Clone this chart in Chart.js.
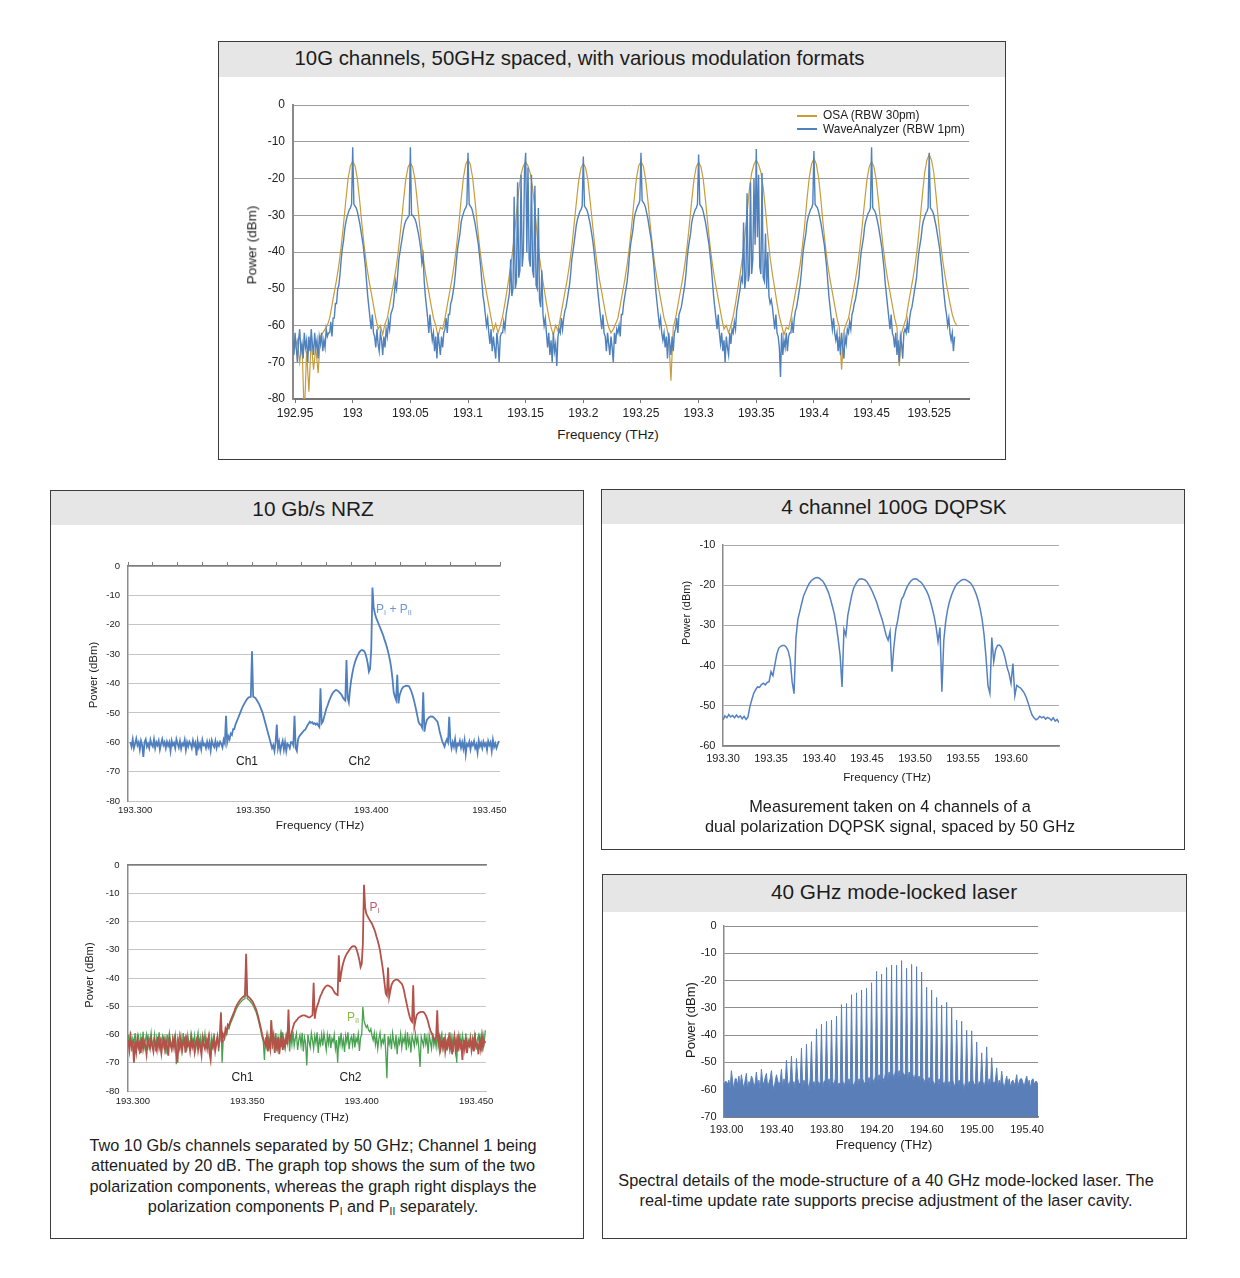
<!DOCTYPE html>
<html>
<head>
<meta charset="utf-8">
<title>Optical spectrum measurements</title>
<script src="https://cdn.jsdelivr.net/npm/chart.js@4.4.1/dist/chart.umd.min.js"></script>
<style>
  html, body { margin: 0; padding: 0; background: #fff; }
  body { width: 1240px; height: 1278px; position: relative; overflow: hidden;
         font-family: 'Liberation Sans', Arial, Helvetica, sans-serif; color: #1c1c1c; }
  .panel { position: absolute; border: 1px solid #3c3c3c; box-sizing: border-box; background: #fff; }
  .head { position: absolute; left: 0; right: 0; top: 0; background: #e6e6e6; }
  canvas { position: absolute; }
  .txt { position: absolute; white-space: nowrap; line-height: 1; z-index: 2; }
  .sub { font-size: 0.62em; position: relative; top: 0.3em; }
  .swatch { position: absolute; height: 2px; width: 20px; z-index: 2; }
</style>
</head>
<body>
<div class="panel" style="left:218px;top:41px;width:788px;height:419px"><div class="head" style="height:35px"></div></div>
<div class="panel" style="left:50px;top:490px;width:534px;height:749px"><div class="head" style="height:34px"></div></div>
<div class="panel" style="left:601px;top:489px;width:584px;height:361px"><div class="head" style="height:34px"></div></div>
<div class="panel" style="left:602px;top:874px;width:585px;height:365px"><div class="head" style="height:37px"></div></div>

<canvas id="c1" width="730" height="332" style="left:253px;top:95px"></canvas>
<canvas id="c2" width="428" height="269" style="left:92px;top:556px"></canvas>
<canvas id="c3" width="414" height="260" style="left:92px;top:855px"></canvas>
<canvas id="c4" width="392" height="237" style="left:687px;top:535px"></canvas>
<canvas id="c5" width="370" height="227" style="left:688px;top:916px"></canvas>

<div class="swatch" style="left:797px;top:115px;background:#c99c3a"></div>
<div class="swatch" style="left:797px;top:128px;background:#4f81bd"></div>

<script>
// ---------- tick labels ----------
const powerTicks80 = [-80, -70, -60, -50, -40, -30, -20, -10, 0];
const powerLabels80 = ['-80', '-70', '-60', '-50', '-40', '-30', '-20', '-10', '0'];
const powerTicks70 = [-70, -60, -50, -40, -30, -20, -10, 0];
const powerLabels70 = ['-70', '-60', '-50', '-40', '-30', '-20', '-10', '0'];
const dqpskPowerTicks = [-60, -50, -40, -30, -20, -10];
const dqpskPowerLabels = ['-60', '-50', '-40', '-30', '-20', '-10'];

const topFreqTicks = [192.95, 193, 193.05, 193.1, 193.15, 193.2, 193.25, 193.3, 193.35, 193.4, 193.45, 193.5];
const topFreqLabels = ['192.95', '193', '193.05', '193.1', '193.15', '193.2', '193.25', '193.3', '193.35', '193.4', '193.45', '193.525'];
const nrzFreqTicks = [193.30, 193.35, 193.40, 193.45];
const nrzFreqLabels = ['193.300', '193.350', '193.400', '193.450'];
const dqpskFreqTicks = [193.30, 193.35, 193.40, 193.45, 193.50, 193.55, 193.60];
const dqpskFreqLabels = ['193.30', '193.35', '193.40', '193.45', '193.50', '193.55', '193.60'];
const mlFreqTicks = [193.0, 193.4, 193.8, 194.2, 194.6, 195.0, 195.4];
const mlFreqLabels = ['193.00', '193.40', '193.80', '194.20', '194.60', '195.00', '195.40'];

// ---------- 10G channels: WaveAnalyzer (1 GHz grid) ----------
// before the first channel, from 192.948 THz
const waLead = [-63,-68,-62,-66,-70,-64,-61,-67,-65,-69,-62,-66,-64,-70,-63,-67,-61,-65,-68,-62,-66,-64,-69,-63,-65,-62,-67,-64,-66,-61,-63,-62];
// one row per 50 GHz slot, first value 20 GHz below the channel centre
const waSlots = [
  [-62,-59,-63,-58,-58,-54,-54,-50,-49,-46,-42,-39,-37,-34,-32,-30.5,-29.5,-28.5,-28,-27,-11.5,-27,-27.5,-28,-29,-30.5,-32,-34,-36,-38,-41,-44,-48,-52,-55,-58,-61,-57,-62,-63,-66,-61,-65,-67,-62,-64,-68,-63,-66,-61],
  [-63,-59,-61,-57,-56,-55,-52,-48,-50,-46,-42,-40,-38,-36,-34,-32.5,-31.5,-31,-30.5,-30,-11.5,-30,-30,-30.5,-31,-32,-33.5,-35,-37,-39,-43,-41,-48,-52,-55,-58,-62,-57,-61,-64,-62,-67,-63,-69,-62,-65,-68,-63,-66,-62],
  [-61,-58,-62,-57,-57,-54,-53,-51,-49,-46,-42,-39,-37,-35,-32,-30.5,-29.5,-28.5,-28,-27,-13,-27,-27.5,-28,-29,-30.5,-32,-34,-36,-38,-41,-44,-48,-52,-54,-57,-60,-58,-62,-65,-61,-67,-63,-66,-69,-62,-65,-70,-63,-62],
  [-62,-59,-61,-57,-55,-53,-51,-42,-52,-50,-25,-50,-48,-21,-47,-45,-19,-44,-40,-18,-13,-40,-17,-42,-44,-19,-45,-47,-22,-49,-50,-28,-53,-55,-45,-57,-60,-58,-62,-66,-62,-68,-64,-70,-62,-67,-65,-71,-63,-61],
  [-62,-58,-61,-58,-56,-55,-53,-51,-49,-46,-42,-40,-37.5,-35,-32.5,-31,-30,-29,-28.5,-27.5,-14,-27.5,-28,-28.5,-29.5,-31,-32.5,-34.5,-36.5,-39,-42,-45,-49,-52,-55,-58,-61,-57,-62,-63,-67,-62,-65,-68,-63,-66,-70,-62,-65,-61],
  [-62,-60,-63,-57,-57,-54,-52,-50,-48,-45,-41,-38,-36,-34,-31,-29.5,-28.5,-27.5,-27,-26,-13,-26,-26.5,-27,-28,-29.5,-31,-33,-35,-37,-40,-43,-47,-51,-54,-57,-60,-58,-62,-64,-62,-66,-63,-69,-62,-65,-68,-63,-67,-62],
  [-61,-58,-62,-57,-56,-55,-53,-51,-49,-46,-42,-39,-37,-35,-32,-30.5,-29.5,-28.5,-28,-27,-13.5,-27,-27.5,-28,-29,-30.5,-32,-34,-36,-38,-41,-44,-48,-52,-55,-58,-61,-57,-62,-65,-62,-67,-64,-70,-63,-66,-68,-62,-65,-61],
  [-62,-59,-61,-56,-54,-52,-50,-47,-48,-32,-50,-47,-24,-48,-46,-21,-46,-42,-20,-38,-12,-36,-19,-44,-46,-18.5,-47,-48,-35,-50,-40,-52,-54,-53,-55,-58,-61,-57,-62,-63,-66,-74,-62,-68,-64,-66,-62,-67,-63,-62],
  [-62,-59,-62,-58,-56,-55,-53,-51,-49,-46,-42,-39,-37,-35,-32,-30.5,-29.5,-28.5,-28,-27,-12.5,-27,-27.5,-28,-29,-30.5,-32,-34,-36,-38,-41,-44,-48,-52,-55,-58,-61,-58,-62,-64,-62,-67,-63,-68,-62,-66,-69,-63,-65,-61],
  [-62,-59,-61,-57,-56,-54,-53,-51,-49,-47,-43,-40,-38,-36,-33,-31.5,-30.5,-29.5,-29,-28,-11.5,-28,-28.5,-29,-30,-31.5,-33,-35,-37,-39,-42,-45,-49,-52,-55,-58,-61,-57,-62,-63,-66,-62,-68,-64,-70,-63,-65,-69,-62,-61],
  [-62,-59,-62,-58,-56,-55,-53,-51,-49,-47,-43,-40,-38,-36,-33,-31.5,-30.5,-29.5,-29,-28,-13,-28,-28.5,-29,-30,-31.5,-33,-35,-37,-39,-42,-45,-49,-52,-55,-57,-60,-58,-62,-64,-62,-67,-63]
];

// ---------- 10G channels: OSA (2 GHz grid) ----------
const osaLead = [-63,-66,-64,-70,-65,-85,-67,-78,-64,-72,-66,-73,-63,-62];
// one row per slot, first value 24 GHz below the channel centre
const osaSlots = [
  [-61,-60,-58,-54.5,-51,-47.5,-43.5,-38.5,-32.5,-26,-20,-16.5,-15.3,-16.5,-20,-26,-32.5,-38.5,-43.5,-47.5,-51,-54.5,-58,-61,-60],
  [-62.5,-59.5,-58,-54.5,-51,-47.5,-43.5,-38.5,-32.5,-26.2,-20.3,-16.9,-15.7,-16.9,-20.3,-26.2,-32.5,-38.5,-43.5,-47.5,-51,-54.5,-58,-60,-63],
  [-60.5,-61,-58,-54.5,-51,-47.5,-43.5,-38.5,-32.5,-25.8,-19.8,-16.2,-14.8,-16.2,-19.8,-25.8,-32.5,-38.5,-43.5,-47.5,-51,-54.5,-58,-61.5,-59.5],
  [-62,-60,-57.5,-54,-50,-46,-41.5,-36,-29.5,-23,-18.8,-16.6,-15.5,-16.6,-18.6,-22.5,-28.5,-35.5,-41.5,-46,-50,-54,-57.5,-60.5,-62.5],
  [-60,-61.5,-58,-54.5,-51,-47.5,-43.5,-38.5,-32.5,-26.4,-20.5,-17.1,-15.9,-17.1,-20.5,-26.4,-32.5,-38.5,-43.5,-47.5,-51,-54.5,-58,-60.5,-62],
  [-61,-59.5,-58,-54.5,-51,-47.5,-43.5,-38.5,-32.5,-26,-20.1,-16.6,-15.4,-16.6,-20.1,-26,-32.5,-38.5,-43.5,-47.5,-51,-54.5,-58,-60,-63],
  [-75,-60.5,-58,-54.5,-51,-47.5,-43.5,-38.5,-32.5,-26.1,-20.2,-16.8,-15.6,-16.8,-20.2,-26.1,-32.5,-38.5,-43.5,-47.5,-51,-54.5,-58,-61,-60],
  [-62,-60,-57.5,-54,-50,-46,-41.5,-36,-29.5,-23,-18.5,-16.2,-15,-16.2,-18.3,-22.5,-28.5,-35.5,-41.5,-46,-50,-54,-57.5,-60,-62.5],
  [-60.5,-61,-58,-54.5,-51,-47.5,-43.5,-38.5,-32.5,-25.6,-19.6,-16,-14.6,-16,-19.6,-25.6,-32.5,-38.5,-43.5,-47.5,-51,-54.5,-58,-60.5,-72],
  [-61.5,-59.5,-58,-54.5,-51,-47.5,-43.5,-38.5,-32.5,-26.2,-20.3,-16.8,-15.5,-16.8,-20.3,-26.2,-32.5,-38.5,-43.5,-47.5,-51,-54.5,-58,-60.5,-71],
  [-62,-60,-58,-54,-50.5,-47,-43,-38,-31.5,-24.8,-18.5,-15,-13.5,-15,-18.5,-24.8,-31.5,-38,-43,-47,-50.5,-54,-57,-59,-60]
];

// ---------- 10 Gb/s NRZ, 0.5 GHz grid from 193.298 THz ----------
const nrzSumPower = [
  -60,-61.5,-59,-62,-60.5,-58.8,-61,-60,-62.5,-59.5,-61,-65,-60,-59,-61.5,-60.5,-62,-59.2,-60.8,-61.5,
  -59,-62,-60,-61,-59.5,-62.5,-60.5,-59,-61,-60,-62,-59.8,-61.2,-60,-63,-59.5,-61,-60.2,-62,-59,
  -60.5,-61.8,-59.6,-62.2,-60.4,-61,-59.2,-62.6,-60,-61.4,-59.8,-60.6,-62,-59.4,-61.2,-60.2,-64.5,-59.6,-61.8,-60.4,
  -62.4,-59.2,-61,-60.6,-62,-59.8,-61.6,-60,-62.8,-59.4,-60.8,-61.6,-59.6,-62,-60.2,-61.2,-59.8,-60.6,-61.8,-59.2,
  -60.4,-51,-60,-58,-59,-57,-57.5,-55.5,-55.5,-54,-53,-52,-51,-50,-49,-48,-47.2,-46.5,-45.8,-45.2,
  -44.8,-44.6,-44.5,-29,-44.5,-44.7,-45,-45.6,-46.3,-47,-48,-49,-50,-51.5,-53,-54.5,-56,-57.5,-59,-60.5,
  -62,-61,-63,-60,-54,-62,-60,-63,-61,-59.5,-62.5,-60,-63,-60.5,-61,-62,-60,-60,-61,-51,
  -62,-63,-59,-58,-57.5,-57,-56.5,-56,-55.8,-55,-54.2,-53.6,-53,-53.4,-53.2,-53.8,-53.5,-54,-53.6,-54.2,
  -54.8,-41.6,-53.6,-53,-51.5,-50,-48.5,-47.5,-46.3,-45.2,-44.3,-43.5,-42.9,-42.5,-42.2,-42.3,-42.6,-43,-43.4,-44,
  -44.8,-45.4,-45.8,-32,-45,-46.5,-42,-38.8,-36.5,-34.5,-33,-31.8,-30.8,-30,-29.3,-28.8,-28.6,-28.7,-29,-29.8,
  -31.2,-33.2,-36,-35,-28,-7.3,-14,-16,-17.5,-18.5,-19.5,-20.5,-21.5,-22.5,-23.5,-24.8,-26,-27.3,-28.8,-30.5,
  -32.5,-35,-38.5,-43,-44.5,-45.6,-37,-46.8,-44,-42.8,-41.8,-41.2,-41,-40.8,-40.7,-40.8,-41,-41.8,-42.8,-44,
  -45.5,-47.2,-49,-51,-53,-53.8,-54.1,-55,-43,-56.4,-54,-52.5,-51.9,-51.5,-51.3,-51.2,-51.3,-51.6,-52,-52.5,
  -53,-54.5,-56.5,-58,-59.5,-60.5,-61.5,-60,-59,-60,-51.3,-59.5,-62,-60,-61.5,-59,-62.5,-60.5,-61,-59.5,
  -61.8,-60,-62.2,-59.4,-64,-60.6,-61.2,-59.8,-62.4,-60.2,-61,-59.6,-62,-60.8,-63.5,-59.4,-61.4,-60.2,-62,-59.8,
  -61.2,-60.4,-62.6,-59.6,-61,-60,-63,-59.2,-61.6,-60.4,-62,-60.8,-59.6
];
const nrzPiPower = [
  -62,-65.5,-61,-64,-63,-70,-62.5,-66,-61.5,-64.5,-63,-66.5,-61,-65,-62.5,-64,-67,-61.8,-63.5,-65,
  -61.5,-64,-66,-62,-63.5,-65.5,-60.8,-64.5,-62.5,-66.5,-63,-61.5,-65,-62.2,-64.2,-67.5,-61.6,-63.8,-65.2,-62,
  -64.6,-61.2,-66,-70,-62.8,-64.8,-61.5,-65.6,-63.2,-62,-66.4,-61.8,-64,-63,-65.8,-61.4,-64.4,-62.6,-66.2,-63,
  -61.6,-65.4,-62.4,-64.2,-67.2,-61.2,-63.6,-65,-62,-64.8,-61.6,-66.6,-69,-62.8,-64.4,-61.8,-65.8,-63.2,-60.8,-64,
  -62,-52.5,-63,-60,-61,-58,-59,-56.5,-57,-55.5,-54.5,-53.5,-52.5,-51.5,-50.3,-49.5,-48.8,-48.2,-47.6,-47.2,
  -46.8,-46.5,-46.3,-31.4,-46.3,-46.6,-47,-47.5,-48,-48.6,-49.5,-50.4,-51.4,-52.8,-54.5,-56.2,-58,-60,-61.5,-63,
  -64,-61,-66,-62.5,-65,-55,-63,-60.5,-66.5,-62,-64.5,-61,-67,-63,-60.5,-65.5,-62,-64,-61,-63.5,
  -51.2,-62,-61,-59,-57.5,-56,-55.5,-55,-54.5,-54,-53.8,-53.5,-53.3,-53.2,-53.2,-53.4,-53.6,-53.8,-54,-53.8,
  -53.5,-53.2,-41.7,-54.4,-51.5,-50,-49,-47.5,-46.3,-45.5,-44.5,-43.8,-43.2,-42.8,-42.6,-42.7,-42.9,-43.2,-43.5,-44.2,
  -45,-45.5,-45.8,-46,-32,-41.4,-38.5,-36.1,-34.5,-33.2,-32.2,-31.4,-30.8,-30.2,-29.6,-29.1,-28.8,-28.7,-28.8,-29.3,
  -30.5,-32,-33.7,-36.1,-35,-28,-7,-15,-17.2,-18,-18.8,-19.5,-20.2,-20.8,-21.8,-22.8,-24,-25.5,-26.8,-28.4,
  -30.2,-33,-35.5,-38.5,-42,-45.5,-46.2,-36.3,-46.7,-44.5,-42.5,-41.6,-41,-40.7,-40.6,-40.6,-40.8,-41.2,-41.6,-42,
  -43,-44.5,-46.7,-48.5,-50.5,-52.2,-53.8,-55,-55.5,-42.6,-57.3,-55,-53.2,-52.6,-52.3,-52.1,-52,-52,-52.1,-52.5,
  -53.2,-54.2,-55.5,-57.3,-58.5,-59.5,-60.3,-61.5,-62,-61,-51.4,-63,-61,-65,-62.5,-64.5,-61,-66,-63,-64.5,
  -61.5,-65,-62,-67,-63.5,-60.8,-65.5,-62.5,-66,-61.2,-64.5,-63,-69,-62,-65,-61,-66.5,-63,-64,-61.8,
  -65.5,-62.5,-66,-61,-64,-63.5,-67,-62,-65,-60.8,-64.5,-62.2,-63
];
const nrzPiiPower = [
  -60,-64,-59,-66,-61.5,-63,-59.5,-65,-62,-60.5,-67,-61,-63.5,-59,-64.5,-62,-60,-65.5,-61,-63,
  -59.5,-64,-62.5,-60,-66,-61,-63,-59.2,-65,-62,-60.5,-64,-61.5,-67,-60,-63.5,-59.5,-62.5,-65,-61,
  -63,-59.8,-70.5,-61.5,-64,-60,-62.5,-65.5,-59.5,-63,-61,-66,-60.2,-62.8,-64.5,-59.6,-61.8,-63.5,-60.4,-65,
  -62,-59.4,-64,-61.2,-66.5,-60,-63,-59.8,-65,-61.6,-62.4,-60.2,-67,-61,-63.8,-59.6,-64.6,-62.2,-60.6,-66,
  -61,-52,-70,-62,-62,-59,-60,-57.5,-58,-56.5,-55.5,-54.5,-53.5,-52.5,-51.3,-50.5,-49.8,-49.2,-48.6,-48.2,
  -47.8,-47.5,-47.3,-38,-47.3,-47.6,-48,-48.5,-49,-49.6,-50.5,-51.4,-52.4,-53.8,-55.5,-57.2,-59,-61,-62.5,-69,
  -61,-64,-60,-63,-62,-55,-65,-60.5,-63,-59.5,-66,-61,-63.5,-60,-64.5,-59.2,-62.5,-65,-60.5,-63,
  -56,-66,-60,-63.5,-59,-64,-61.5,-59.6,-65.5,-62,-60.2,-63.8,-59.4,-66,-61,-63,-71,-60,-62.5,-64.5,
  -59.5,-62,-65,-60.5,-63,-59.2,-66.5,-61.5,-63.5,-60,-64,-59.6,-62.4,-65.5,-60.2,-63.2,-59.8,-64.8,-61.4,-62.6,
  -60,-65,-62,-70,-60.6,-63.6,-59.4,-64.2,-61.8,-66.2,-60.4,-62.8,-59.2,-65.2,-62,-60.8,-63.8,-59.6,-64.6,-61.2,
  -62.6,-59.8,-65.8,-61,-60,-50.3,-55,-56.5,-57.5,-56.8,-58.5,-59,-58,-60.5,-62,-59.5,-63.5,-60.5,-65,-61.5,
  -59.4,-64,-61.8,-63,-59.8,-66,-75.5,-60.6,-63.4,-61,-65.2,-59.6,-62.6,-64.4,-60.2,-67,-61.6,-63.2,-59.8,-64.6,
  -61.2,-62.8,-60,-65.6,-59.2,-63.6,-61.4,-66.4,-60.4,-62.2,-64.2,-59.8,-63,-61,-65.4,-71.5,-60.8,-62.4,-64,-59.6,
  -63.4,-61,-66.8,-60.2,-62.6,-65,-59.4,-63.8,-61.6,-64.4,-60,-62.8,-66,-61.2,-59.6,-64.8,-62.2,-60.6,-65.6,-61.8,
  -63,-59.2,-64.4,-61.4,-66.2,-60.4,-62.6,-70,-59.8,-63.6,-61,-65.2,-60.2,-62.4,-64,-59.6,-66.6,-61.8,-63.2,-60.6,
  -64.8,-61,-62.6,-59.4,-65.4,-62,-60.4,-63.8,-61.2,-66,-60,-62.8,-58.5
];

// ---------- 4 channel 100G DQPSK, 2 GHz grid from 193.300 THz ----------
const dqpskPower = [
  -53.5,-52.5,-53,-52.2,-52.8,-52.4,-53,-52.3,-52.9,-52.5,-53.2,-52.6,-53.4,-52.8,-50.2,-48.5,-46.9,-46,-45.3,-45.4,
  -44.7,-44.4,-44.8,-44.2,-44,-41.5,-42.5,-39.8,-37.2,-35.7,-35.2,-35,-35,-35.4,-36.4,-38.5,-44,-47,-33,-28.5,
  -26.5,-24.5,-22.6,-21.5,-20.4,-19.5,-18.9,-18.5,-18.2,-18.1,-18.2,-18.6,-19,-19.8,-20.8,-21.9,-23.5,-25.3,-27.2,-30,
  -33.5,-37.5,-45.3,-31,-32.5,-27.5,-25,-22.6,-20.8,-19.8,-19,-18.5,-18.4,-18.5,-18.7,-19.2,-20,-20.8,-21.8,-23,
  -24.2,-25.8,-27.3,-28.7,-30.6,-32.5,-33.7,-31.5,-41.5,-35.3,-31,-28.7,-25.8,-23.5,-22.7,-21.4,-20.3,-19.5,-18.9,-18.5,
  -18.4,-18.5,-18.9,-19.2,-19.8,-20.6,-21.4,-22.5,-24,-25.8,-27.8,-30.5,-34,-30.5,-46.5,-33.7,-29,-26,-24,-22.5,
  -21.3,-20.3,-19.6,-19.2,-18.8,-18.6,-18.6,-18.8,-19.1,-19.5,-20.2,-21.2,-22.4,-24,-26,-28.6,-32.5,-38,-45,-46.9,
  -33,-39,-36,-35,-34.9,-35.4,-36.5,-38.2,-40.5,-42,-44.4,-39.5,-47.5,-44.9,-45.3,-45.6,-46.2,-46.9,-48,-49.4,
  -51,-52.3,-53,-53.5,-53.2,-52.6,-53,-52.7,-53.3,-52.9,-53.1,-53.6,-53,-53.8,-53.4,-54.2
];

// ---------- 40 GHz mode-locked laser ----------
const mlFirstMode = 192.998;   // THz, mode 0
const mlSpacing = 0.04;        // THz
const mlModePeaks = [
  -57,-53,-56,-54.5,-54,-55,-53.5,-52.5,-54,-53,-54.5,-52.5,
  -49.2,-47.7,-48.6,-44.8,-43.3,-42.4,-37.7,-36,-35,-34.5,-33,-28.8,-28.4,-25.2,-24.5,-23.5,-22.8,-20.8,-16.6,-17.6,
  -15.2,-14.3,-14.4,-12.7,-15.5,-14.1,-14.9,-16.9,-22.5,-23.5,-26.2,-29,-28,-30,-34.5,-34.9,-38.2,-38.4,-42.5,-46.5,
  -44.3,-48.3,-52,-53.2,
  -55,-57,-54.5,-56,-55,-56.5,-57
];
const mlLeadFloor = [-58.5, -57];
// three noise-floor samples (10, 20, 30 GHz) after each mode
const mlFloor = [
  -58,-56.5,-59.5,-57,-60,-56,-58.5,-55,-59,-57.5,-59.5,-56.5,-60,-57,-58,-56,-59,-57.5,-58.5,-56.5,-60,-57,-58,-55.5,-59,-57.5,-56,-58,-60,-57,
  -56.5,-58.5,-57,-59.5,-56,-58,-57,-59,-56.5,-58.5,-57,-60,-56,-58,-57.5,-59,-56.5,-58,-57.5,-60,-56,-58,-57,-59,-56.5,-58.5,-57,-59.5,-57,-56.5,
  -58,-56,-59,-57,-58.5,-56,-59,-57.5,-58,-56.5,-59,-57,-58,-56,-58.5,-57.5,-59,-56.5,-58.5,-56,-57.5,-56,-58,-57,-57.5,-55.5,-58.5,-56,-57.5,-55,
  -57,-54.5,-56.5,-55.5,-57,-54,-56.5,-53.5,-55.5,-54,-56,-53,-55.5,-53,-56,-53.5,-55,-54,-56,-53.5,-55.5,-54.5,-56.5,-54,-56,-55,-57,-55.5,-57.5,-56,
  -57,-55.5,-58,-56.5,-58.5,-57,-58,-56,-59,-57,-58.5,-56.5,-58.5,-57,-59.5,-56.5,-59,-57.5,-58,-56.5,-59,-57.5,-60,-57,-59,-57,-58,-56.5,-58.5,-57.5,
  -59.5,-57,-58,-57,-59,-56.5,-58.5,-56,-59,-57,-58,-56.5,-59,-56.5,-58.5,-57.5,-59.5,-57,-58,-56,-59,-56.5,-58.5,-57,-59,-57,-56,-57.5,-59,-56.5,
  -58,-56.5,-59.5,-56,-58,-57,-58.5,-57,-59
];

// ---------- building points ----------
function trace(start, step, values) {
  return values.map((y, i) => ({ x: +(start + i * step).toFixed(5), y }));
}
const waPoints = trace(192.948, 0.001, waLead).concat(...waSlots.map((s, k) => trace(192.980 + 0.05 * k, 0.001, s)));
const osaPoints = trace(192.948, 0.002, osaLead).concat(...osaSlots.map((s, k) => trace(192.976 + 0.05 * k, 0.002, s)));
const nrzSumPoints = trace(193.298, 0.0005, nrzSumPower);
const nrzPiPoints = trace(193.298, 0.0005, nrzPiPower);
const nrzPiiPoints = trace(193.298, 0.0005, nrzPiiPower);
const dqpskPoints = trace(193.300, 0.002, dqpskPower);
const mlPoints = trace(192.979, 0.01, mlLeadFloor).concat(...mlModePeaks.map((p, n) => {
  const f = mlFirstMode + n * mlSpacing;
  return [{ x: +f.toFixed(5), y: p }].concat(trace(f + 0.01, 0.01, mlFloor.slice(3 * n, 3 * n + 3)));
}));

// ---------- charts ----------
Chart.defaults.font.family = "'Liberation Sans', Arial, sans-serif";
Chart.defaults.color = '#222';

function spectrumChart(id, datasets, o) {
  const scales = {
    x: {
      type: 'linear', min: o.xMin, max: o.xMax,
      afterBuildTicks: s => { s.ticks = o.xTicks.map(v => ({ value: v })); },
      afterFit: s => { s.height = o.xAxisH; s.paddingLeft = 0; s.paddingRight = 0; },
      ticks: { autoSkip: false, maxRotation: 0, minRotation: 0, padding: o.xPad,
               font: { size: o.font }, color: '#222', callback: (v, i) => o.xLabels[i] },
      grid: { drawOnChartArea: false, drawTicks: !!o.xTickLen, tickLength: o.xTickLen || 0, color: o.xBorder },
      border: { color: o.xBorder, width: o.xBorderW }
    },
    y: {
      type: 'linear', min: o.yMin, max: o.yMax,
      afterBuildTicks: s => { s.ticks = o.yTicks.map(v => ({ value: v })); },
      afterFit: s => { s.width = o.yAxisW; s.paddingTop = 0; s.paddingBottom = 0; },
      ticks: { padding: o.yPad, font: { size: o.font }, color: '#222', callback: (v, i) => o.yLabels[i] },
      grid: { color: o.gridColor, lineWidth: 1, drawTicks: false },
      border: { color: o.yBorder, width: o.yBorderW }
    }
  };
  if (o.top) {
    scales.x2 = {
      type: 'linear', position: 'top', min: o.xMin, max: o.xMax,
      afterBuildTicks: s => { s.ticks = o.top.marks.map(v => ({ value: v })); },
      afterFit: s => { s.height = 0; s.paddingLeft = 0; s.paddingRight = 0; },
      ticks: { display: false },
      grid: { drawOnChartArea: false, drawTicks: true, tickLength: 4, color: o.top.color },
      border: { color: o.top.color, width: 1.5 }
    };
  }
  return new Chart(document.getElementById(id), {
    type: 'line',
    data: { datasets },
    options: {
      responsive: false, animation: false, devicePixelRatio: 1,
      parsing: false, normalized: true, events: [],
      layout: { padding: { left: 0, top: o.padTop, right: o.padRight, bottom: 0 } },
      plugins: { legend: { display: false }, tooltip: { enabled: false } },
      elements: { point: { radius: 0 }, line: { tension: 0 } },
      scales
    }
  });
}

const line = (data, color, width, extra) => Object.assign({ data, borderColor: color, borderWidth: width, fill: false }, extra || {});

spectrumChart('c1', [line(waPoints, '#4f81bd', 1.4), line(osaPoints, '#c99c3a', 1.2)], {
  xMin: 192.9482, xMax: 193.5345, xTicks: topFreqTicks, xLabels: topFreqLabels,
  yMin: -80, yMax: 0, yTicks: powerTicks80, yLabels: powerLabels80,
  font: 12, xPad: 3.5, xTickLen: 4, xBorder: '#767676', xBorderW: 2,
  yPad: 8, gridColor: '#9c9c9c', yBorder: '#8a8a8a', yBorderW: 2,
  yAxisW: 40, xAxisH: 28, padTop: 10, padRight: 14
});

const nrzTopMarks = [];
for (let k = 0; k <= 15; k++) nrzTopMarks.push(193.297 + 0.0105 * k);

spectrumChart('c2', [line(nrzSumPoints, '#4f7fbf', 1.8)], {
  xMin: 193.297, xMax: 193.4545, xTicks: nrzFreqTicks, xLabels: nrzFreqLabels,
  yMin: -80, yMax: 0, yTicks: powerTicks80, yLabels: powerLabels80,
  font: 9.5, xPad: 4, xTickLen: 0, xBorder: '#c2c2c2', xBorderW: 1,
  yPad: 8, gridColor: '#c6c6c6', yBorder: '#8c8c8c', yBorderW: 1.5,
  yAxisW: 36, xAxisH: 24, padTop: 10, padRight: 20,
  top: { marks: nrzTopMarks, color: '#7c7c7c' }
});

spectrumChart('c3', [line(nrzPiPoints, '#b4524a', 1.8), line(nrzPiiPoints, '#47a150', 1.3)], {
  xMin: 193.2979, xMax: 193.4543, xTicks: nrzFreqTicks, xLabels: nrzFreqLabels,
  yMin: -80, yMax: 0, yTicks: powerTicks80, yLabels: powerLabels80,
  font: 9.5, xPad: 4.3, xTickLen: 0, xBorder: '#c2c2c2', xBorderW: 1,
  yPad: 8.5, gridColor: '#c6c6c6', yBorder: '#8c8c8c', yBorderW: 1.5,
  yAxisW: 36, xAxisH: 24, padTop: 10, padRight: 20,
  top: { marks: [], color: '#7c7c7c' }
});

spectrumChart('c4', [line(dqpskPoints, '#5581c0', 1.5)], {
  xMin: 193.30, xMax: 193.65, xTicks: dqpskFreqTicks, xLabels: dqpskFreqLabels,
  yMin: -60, yMax: -10, yTicks: dqpskPowerTicks, yLabels: dqpskPowerLabels,
  font: 11, xPad: 6, xTickLen: 0, xBorder: '#7f7f7f', xBorderW: 1.5,
  yPad: 7.6, gridColor: '#ababab', yBorder: '#8a8a8a', yBorderW: 1.5,
  yAxisW: 36, xAxisH: 26, padTop: 10, padRight: 20
});

spectrumChart('c5', [line(mlPoints, '#5a80bb', 1, { fill: 'start', backgroundColor: '#5a7eb8' })], {
  xMin: 192.979, xMax: 195.488, xTicks: mlFreqTicks, xLabels: mlFreqLabels,
  yMin: -70, yMax: 0, yTicks: powerTicks70, yLabels: powerLabels70,
  font: 11, xPad: 6.7, xTickLen: 0, xBorder: '#6f6f6f', xBorderW: 1.5,
  yPad: 7.4, gridColor: '#8f8f8f', yBorder: '#8a8a8a', yBorderW: 1.5,
  yAxisW: 36, xAxisH: 26, padTop: 10, padRight: 20
});

// ---------- text ----------
function label(html, x, cy, size, opt) {
  opt = opt || {};
  const d = document.createElement('div');
  d.className = 'txt';
  d.innerHTML = html;
  d.style.fontSize = size + 'px';
  d.style.left = x + 'px';
  if (opt.color) d.style.color = opt.color;
  if (opt.rotate) {
    d.style.top = cy + 'px';
    d.style.transform = 'translate(-50%,-50%) rotate(-90deg)';
  } else {
    d.style.top = (cy - 0.49 * size) + 'px';
    if (!opt.left) d.style.transform = 'translateX(-50%)';
  }
  document.body.appendChild(d);
}
const sub = s => '<span class="sub">' + s + '</span>';

label('10G channels, 50GHz spaced, with various modulation formats', 579.5, 58, 20.4);
label('10 Gb/s NRZ', 313, 509, 20.8);
label('4 channel 100G DQPSK', 894, 507, 20.8);
label('40 GHz mode-locked laser', 894, 892, 20.8);

label('Power (dBm)', 252, 245, 13.5, { rotate: true });
label('Frequency (THz)', 608, 435, 13.5);
label('OSA (RBW 30pm)', 823, 116, 11.9, { left: true });
label('WaveAnalyzer (RBW 1pm)', 823, 129.5, 11.9, { left: true });

label('Power (dBm)', 94, 675, 11.4, { rotate: true });
label('Frequency (THz)', 320, 826, 11.8);
label('Ch1', 247, 761, 12);
label('Ch2', 359.5, 761, 12);
label('P' + sub('I') + ' + P' + sub('II'), 376, 609, 12, { left: true, color: '#6f96d6' });

label('Power (dBm)', 90, 975, 11.2, { rotate: true });
label('Frequency (THz)', 306, 1118, 11.4);
label('Ch1', 242.5, 1077, 12);
label('Ch2', 350.5, 1077, 12);
label('P' + sub('I'), 369.5, 907, 12, { left: true, color: '#c35a6b' });
label('P' + sub('II'), 347, 1017, 12, { left: true, color: '#8db845' });

label('Two 10 Gb/s channels separated by 50 GHz; Channel 1 being', 313, 1144.5, 16.3);
label('attenuated by 20 dB. The graph top shows the sum of the two', 313, 1165, 16.3);
label('polarization components, whereas the graph right displays the', 313, 1185.5, 16.3);
label('polarization components P' + sub('I') + ' and P' + sub('II') + ' separately.', 313, 1206, 16.3);

label('Power (dBm)', 686, 613, 11, { rotate: true });
label('Frequency (THz)', 887, 777, 11.7);
label('Measurement taken on 4 channels of a', 890, 805.5, 16.3);
label('dual polarization DQPSK signal, spaced by 50 GHz', 890, 825.5, 16.3);

label('Power (dBm)', 689.5, 1020, 13, { rotate: true });
label('Frequency (THz)', 884, 1145, 12.9);
label('Spectral details of the mode-structure of a 40 GHz mode-locked laser. The', 886, 1180, 16.3);
label('real-time update rate supports precise adjustment of the laser cavity.', 886, 1200, 16.3);
</script>
</body>
</html>
